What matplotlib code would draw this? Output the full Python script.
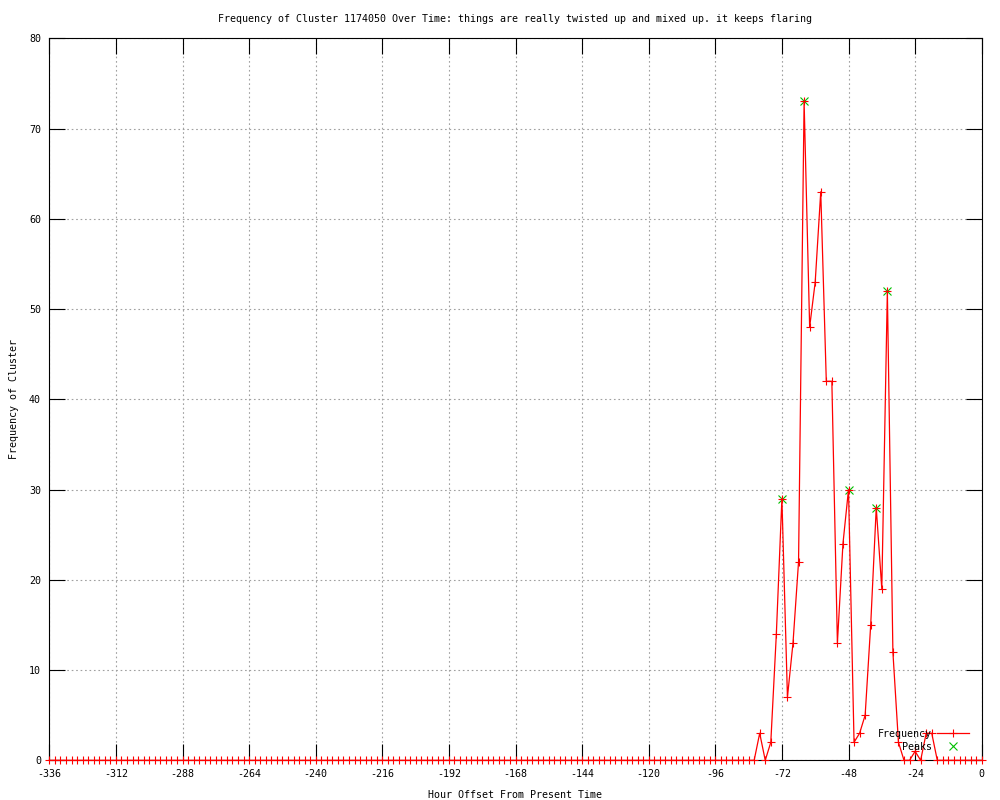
#Frequency of cluster over time, gnuplot look
import matplotlib.pyplot as plt

plt.rcParams['font.family'] = 'DejaVu Sans Mono'
plt.rcParams['font.size'] = 7.2
plt.rcParams['axes.unicode_minus'] = False

#data: one reading every 2 hours, -336 .. 0
hours = list(range(-336, 1, 2))
frequency = [0] * 128 + [
    3, 0, 2, 14, 29, 7, 13, 22, 73, 48, 53, 63, 42, 42, 13, 24, 30,
    2, 3, 5, 15, 28, 19, 52, 12, 2, 0, 0, 1, 0, 3, 3, 0,
    0, 0, 0, 0, 0, 0, 0, 0,
]
peak_hours = [-72, -64, -48, -38, -34]
peak_values = [29, 73, 30, 28, 52]

xticks = list(range(-336, 1, 24))
yticks = list(range(0, 81, 10))

fig = plt.figure(figsize=(10, 8), dpi=100)
ax = fig.add_axes([0.0493, 0.0496, 0.9324, 0.9025])

#peaks first so the red + sits on top
ax.plot(peak_hours, peak_values, linestyle="none", marker="x", color="#00c000",
        markersize=6, markeredgewidth=0.8, label="Peaks", zorder=2, clip_on=False)
ax.plot(hours, frequency, color="#ff0000", linewidth=0.9, marker="+",
        markersize=5.5, markeredgewidth=0.8, label="Frequency", zorder=3, clip_on=False)

ax.set_xlim(-336, 0)
ax.set_ylim(0, 80)
ax.set_xticks(xticks)
ax.set_yticks(yticks)

ax.tick_params(direction="in", length=11.5, width=0.8, top=True, right=True,
               pad=6, colors="black")
ax.grid(True, color="#a0a0a0", linestyle=(0, (1.5, 2.5)), linewidth=0.8)
ax.set_axisbelow(True)
for s in ax.spines.values():
    s.set_linewidth(0.8)

ax.set_title("Frequency of Cluster 1174050 Over Time: things are really twisted up and mixed up. it keeps flaring",
             fontsize=7.2, pad=12)
ax.set_xlabel("Hour Offset From Present Time", labelpad=8)
ax.set_ylabel("Frequency of Cluster", labelpad=7)

#legend: gnuplot style, text then sample
handles, labels = ax.get_legend_handles_labels()
ax.legend(handles[::-1], labels[::-1], loc="lower right", bbox_to_anchor=(0.9864, 0.012),
          frameon=False, markerfirst=False, handlelength=3.2, handletextpad=0.5,
          labelspacing=0.3, borderpad=0, borderaxespad=0)

plt.savefig("out.png", dpi=100)
